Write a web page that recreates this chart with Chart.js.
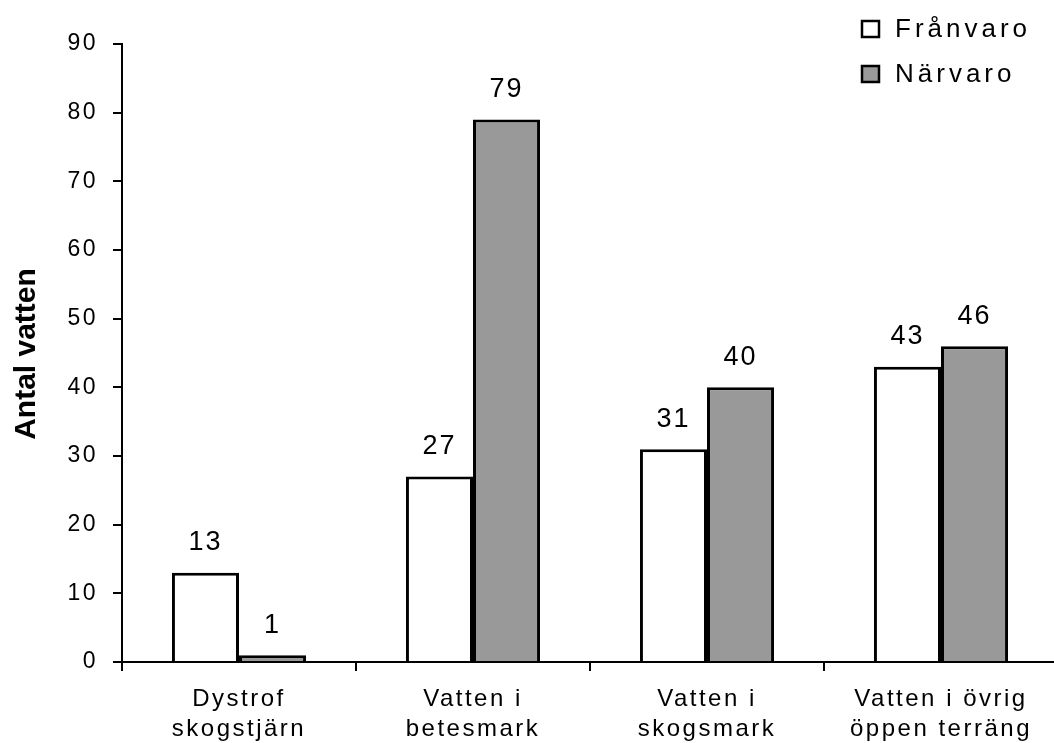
<!DOCTYPE html>
<html>
<head>
<meta charset="utf-8">
<script src="https://cdn.jsdelivr.net/npm/chart.js@4.4.0/dist/chart.umd.min.js"></script>
<style>
  body { margin: 0; background: #fff; overflow: hidden; }
  #wrap { width: 1054px; height: 743px; overflow: hidden; }
</style>
</head>
<body>
<div id="wrap"><canvas id="myChart" width="1058" height="743"></canvas></div>
<script>
const categories = [['Dystrof', 'skogstjärn'], ['Vatten i', 'betesmark'], ['Vatten i', 'skogsmark'], ['Vatten i övrig', 'öppen terräng']];
const franvaro = [13, 27, 31, 43];
const narvaro = [1, 79, 40, 46];
const yTicks = [0, 10, 20, 30, 40, 50, 60, 70, 80, 90];
const yTitle = 'Antal vatten';

const FONT = "'Liberation Sans', Arial, sans-serif";

const extras = {
    id: 'extras',
    beforeDraw(chart) {
        chart.ctx.letterSpacing = '2.5px';
    },
    afterDraw(chart) {
        const ctx = chart.ctx;
        ctx.save();
        ctx.fillStyle = '#000';

        // value labels
        ctx.letterSpacing = '2px';
        ctx.font = '27px ' + FONT;
        ctx.textAlign = 'center';
        ctx.textBaseline = 'middle';
        chart.data.datasets.forEach((ds, i) => {
            chart.getDatasetMeta(i).data.forEach((bar, j) => {
                ctx.fillText(String(ds.data[j]), bar.x, bar.y - 30);
            });
        });

        // legend
        ctx.letterSpacing = '4px';
        ctx.font = '26px ' + FONT;
        ctx.textAlign = 'left';
        ctx.textBaseline = 'alphabetic';
        const rows = [37, 82];
        chart.data.datasets.forEach((ds, i) => {
            const base = rows[i];
            ctx.fillStyle = ds.backgroundColor;
            ctx.fillRect(862, base - 16, 17, 16);
            ctx.strokeStyle = '#000';
            ctx.lineWidth = 2.5;
            ctx.strokeRect(862, base - 16, 17, 16);
            ctx.fillStyle = '#000';
            ctx.fillText(ds.label, 895, base);
        });

        // y axis title
        ctx.letterSpacing = '0px';
        ctx.font = 'bold 30px ' + FONT;
        ctx.translate(35, 354);
        ctx.rotate(-Math.PI / 2);
        ctx.textAlign = 'center';
        ctx.fillText(yTitle, 0, 0);
        ctx.restore();
    }
};

new Chart(document.getElementById('myChart'), {
    type: 'bar',
    data: {
        labels: categories,
        datasets: [{
            label: 'Frånvaro',
            data: franvaro,
            backgroundColor: '#ffffff',
            borderColor: '#000000',
            borderWidth: 3,
            borderSkipped: 'start'
        },
        {
            label: 'Närvaro',
            data: narvaro,
            backgroundColor: '#999999',
            borderColor: '#000000',
            borderWidth: 3,
            borderSkipped: 'start'
        }]
    },
    options: {
        responsive: false,
        animation: false,
        layout: { padding: { top: 44, left: 0, right: 0, bottom: 0 } },
        datasets: { bar: { categoryPercentage: 0.573, barPercentage: 1 } },
        plugins: {
            legend: { display: false },
            tooltip: { enabled: false }
        },
        scales: {
            x: {
                afterFit: scale => { scale.height = 81; },
                grid: { display: true, drawOnChartArea: false, offset: true, tickLength: 9, color: '#000', lineWidth: 2 },
                border: { color: '#000', width: 2 },
                ticks: {
                    color: '#000',
                    padding: 13,
                    maxRotation: 0,
                    autoSkip: false,
                    font: { family: FONT, size: 24, lineHeight: 1.25 }
                }
            },
            y: {
                min: 0,
                max: 90,
                afterFit: scale => { scale.width = 122; },
                afterBuildTicks: scale => { scale.ticks = yTicks.map(v => ({ value: v })); },
                grid: { display: true, drawOnChartArea: false, tickLength: 9, color: '#000', lineWidth: 2 },
                border: { color: '#000', width: 2 },
                ticks: {
                    color: '#000',
                    padding: 15,
                    font: { family: FONT, size: 23 }
                }
            }
        }
    },
    plugins: [extras]
});
</script>
</body>
</html>
